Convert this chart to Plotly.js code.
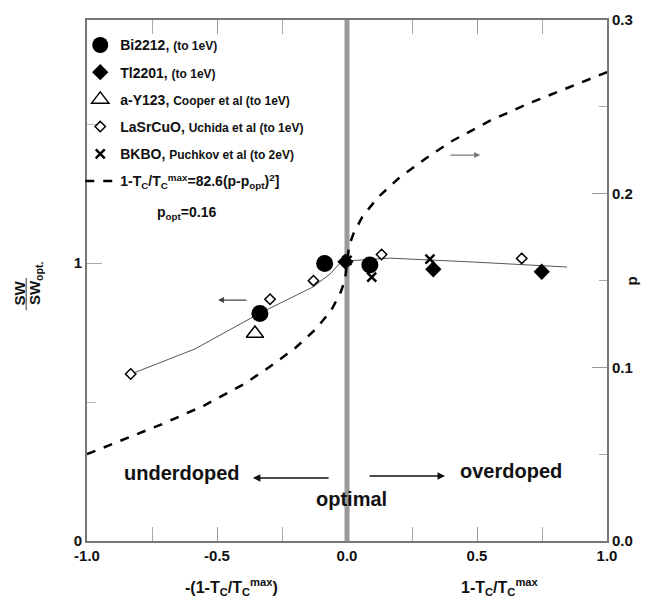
<!DOCTYPE html>
<html>
<head>
<meta charset="utf-8">
<script src="https://cdn.plot.ly/plotly-3.0.1.min.js"></script>
<style>html,body{margin:0;padding:0;background:#fff;}#chart{width:645px;height:601px;}</style>
</head>
<body>
<div id="chart"></div>
<script>
// ---- data ----
const bi_x = [-0.335, -0.086, 0.088];
const bi_y = [0.819, 0.999, 0.993];
const tl_x = [-0.006, 0.332, 0.749];
const tl_y = [1.005, 0.978, 0.969];
const y123_x = [-0.354];
const y123_y = [0.747];
const lsco_x = [-0.832, -0.296, -0.129, 0.133, 0.672];
const lsco_y = [0.601, 0.870, 0.937, 1.031, 1.017];
const bkbo_x = [0.0, 0.095, 0.319];
const bkbo_y = [1.010, 0.950, 1.014];
const guide_x = [-0.831, -0.585, -0.335, -0.131, -0.065, -0.027, 0.0, 0.165, 0.485, 0.846];
const guide_y = [0.601, 0.691, 0.820, 0.914, 0.961, 1.000, 1.008, 1.018, 1.004, 0.986];
const dash_x = [-1.0, -0.85, -0.7, -0.55, -0.4, -0.3, -0.2, -0.12, -0.06, -0.025, -0.008, 0.0,
                0.008, 0.025, 0.06, 0.12, 0.2, 0.3, 0.4, 0.55, 0.7, 0.85, 1.0];
const dash_p = [0.050, 0.059, 0.068, 0.078, 0.090, 0.100, 0.111, 0.122, 0.133, 0.143, 0.150, 0.160,
                0.170, 0.177, 0.187, 0.198, 0.209, 0.220, 0.230, 0.242, 0.252, 0.261, 0.270];
const optimalX = 0.0;
const xTickVals = [-1, -0.5, 0, 0.5, 1];
const xTickText = ['-1.0', '-0.5', '0.0', '0.5', '1.0'];
const xMinor = [-0.75, -0.25, 0.25, 0.75];
const yTickVals = [0, 1];
const yTickText = ['0', '1'];
const yMinor = [0.5, 1.5];
const pTickVals = [0, 0.1, 0.2, 0.3];
const pTickText = ['0.0', '0.1', '0.2', '0.3'];
const pMinor = [0.05, 0.15, 0.25];

const F = 'Liberation Sans, Arial, Helvetica, sans-serif';
const small = s => "<span style='font-size:12px'>" + s + "</span>";

const traces = [
  {x: [optimalX, optimalX], y: [0, 1.875], mode: 'lines', line: {color: '#9a9a9a', width: 5},
   showlegend: false, hoverinfo: 'skip'},
  {x: guide_x, y: guide_y, mode: 'lines', line: {color: '#555', width: 1}, showlegend: false},
  {x: dash_x, y: dash_p, yaxis: 'y2', mode: 'lines', line: {color: '#000', width: 2.5, dash: 'dash'},
   name: '<b>1-T<sub>C</sub>/T<sub>C</sub><sup>max</sup>=82.6(p-p<sub>opt</sub>)<sup>2</sup>]</b>',
   legendrank: 6, legendgroup: 'g6'},
  {x: lsco_x, y: lsco_y, mode: 'markers', name: '<b>LaSrCuO,</b> ' + small('<b>Uchida et al (to 1eV)</b>'),
   marker: {symbol: 'diamond', size: 8, color: '#fff', line: {color: '#000', width: 1.5}},
   legendrank: 4, legendgroup: 'g4'},
  {x: y123_x, y: y123_y, mode: 'markers', name: '<b>a-Y123,</b> ' + small('<b>Cooper et al (to 1eV)</b>'),
   marker: {symbol: 'triangle-up', size: 15, color: '#fff', line: {color: '#000', width: 1.5}},
   legendrank: 3, legendgroup: 'g3'},
  {x: bi_x, y: bi_y, mode: 'markers', name: '<b>Bi2212,</b> ' + small('<b>(to 1eV)</b>'),
   marker: {symbol: 'circle', size: 17, color: '#000'}, legendrank: 1, legendgroup: 'g1'},
  {x: tl_x, y: tl_y, mode: 'markers', name: '<b>Tl2201,</b> ' + small('<b>(to 1eV)</b>'),
   marker: {symbol: 'diamond', size: 12.5, color: '#000'}, legendrank: 2, legendgroup: 'g2'},
  {x: bkbo_x, y: bkbo_y, mode: 'markers', name: '<b>BKBO,</b> ' + small('<b>Puchkov et al (to 2eV)</b>'),
   marker: {symbol: 'x-thin-open', size: 9, color: '#000', line: {color: '#000', width: 2.5}},
   legendrank: 5, legendgroup: 'g5'}
];

const axLine = '#777';
const layout = {
  width: 645, height: 601,
  margin: {l: 87, r: 38, t: 20, b: 60},
  paper_bgcolor: '#fff', plot_bgcolor: '#fff',
  font: {family: F, color: '#111'},
  showlegend: true,
  legend: {x: -0.013, y: 0.982, xanchor: 'left', yanchor: 'top', bgcolor: 'rgba(0,0,0,0)',
           font: {family: F, size: 14, color: '#111'}, tracegroupgap: 6, itemsizing: 'trace',
           traceorder: 'grouped'},
  xaxis: {range: [-1, 1], tickvals: xTickVals, ticktext: xTickText, ticks: 'inside', ticklen: 14,
          tickcolor: '#999', tickwidth: 1, mirror: 'allticks', showline: true, linecolor: axLine, linewidth: 2,
          showgrid: false, zeroline: false, tickfont: {family: F, size: 15, color: '#111', weight: 'bold'},
          minor: {tickvals: xMinor, ticks: 'inside', ticklen: 9, tickcolor: '#aaa', showgrid: false}},
  yaxis: {range: [0, 1.875], tickvals: yTickVals, ticktext: yTickText, ticks: 'inside', ticklen: 15,
          tickcolor: '#aaa', showline: true, linecolor: axLine, linewidth: 2, showgrid: false, zeroline: false,
          tickfont: {family: F, size: 15, color: '#111', weight: 'bold'},
          minor: {tickvals: yMinor, ticks: 'inside', ticklen: 9, tickcolor: '#bbb', showgrid: false}},
  yaxis2: {range: [0, 0.3], overlaying: 'y', side: 'right', tickvals: pTickVals, ticktext: pTickText,
           ticks: 'inside', ticklen: 15, tickcolor: '#999', showline: true, linecolor: axLine, linewidth: 2,
           showgrid: false, zeroline: false, tickfont: {family: F, size: 15, color: '#111', weight: 'bold'},
           minor: {tickvals: pMinor, ticks: 'inside', ticklen: 8, tickcolor: '#aaa', showgrid: false}},
  shapes: [
    {type: 'line', xref: 'paper', yref: 'paper', x0: -0.117, x1: -0.117, y0: 0.443, y1: 0.505,
     line: {color: '#333', width: 1}}
  ],
  annotations: [
    {xref: 'paper', yref: 'paper', x: -0.129, y: 0.449, xanchor: 'center', yanchor: 'bottom', textangle: -90,
     text: '<b>SW</b>', showarrow: false, font: {family: F, size: 15, color: '#111'}},
    {xref: 'paper', yref: 'paper', x: -0.099, y: 0.449, xanchor: 'center', yanchor: 'bottom', textangle: -90,
     text: '<b>SW<sub>opt.</sub></b>', showarrow: false, font: {family: F, size: 15, color: '#111'}},
    {xref: 'paper', yref: 'paper', x: 1.048, y: 0.5, xanchor: 'center', yanchor: 'middle', textangle: -90,
     text: '<b>p</b>', showarrow: false, font: {family: F, size: 15, color: '#111'}},
    {xref: 'x', yref: 'paper', x: -0.446, y: -0.088, xanchor: 'center', yanchor: 'middle',
     text: '<b>-(1-T<sub>C</sub>/T<sub>C</sub><sup>max</sup>)</b>', showarrow: false, font: {family: F, size: 16, color: '#111'}},
    {xref: 'x', yref: 'paper', x: 0.588, y: -0.088, xanchor: 'center', yanchor: 'middle',
     text: '<b>1-T<sub>C</sub>/T<sub>C</sub><sup>max</sup></b>', showarrow: false, font: {family: F, size: 16, color: '#111'}},
    {xref: 'paper', yref: 'paper', x: 0.130, y: 0.629, xanchor: 'left', yanchor: 'middle',
     text: '<b>p<sub>opt</sub>=0.16</b>', showarrow: false, font: {family: F, size: 14, color: '#111'}},
    {xref: 'x', yref: 'y', x: -0.635, y: 0.245, text: '<b>underdoped</b>', showarrow: false,
     font: {family: F, size: 20, color: '#111'}},
    {xref: 'x', yref: 'y', x: 0.631, y: 0.252, text: '<b>overdoped</b>', showarrow: false,
     font: {family: F, size: 20, color: '#111'}},
    {xref: 'x', yref: 'y', x: 0.019, y: 0.151, text: '<b>optimal</b>', showarrow: false,
     font: {family: F, size: 20, color: '#111'}},
    {xref: 'x', yref: 'y', axref: 'x', ayref: 'y', x: -0.362, y: 0.227, ax: -0.065, ay: 0.227, text: '',
     showarrow: true, arrowhead: 2, arrowsize: 1, arrowwidth: 1.5, arrowcolor: '#111'},
    {xref: 'x', yref: 'y', axref: 'x', ayref: 'y', x: 0.377, y: 0.234, ax: 0.081, ay: 0.234, text: '',
     showarrow: true, arrowhead: 2, arrowsize: 1, arrowwidth: 1.5, arrowcolor: '#111'},
    {xref: 'x', yref: 'y', axref: 'x', ayref: 'y', x: -0.496, y: 0.867, ax: -0.381, ay: 0.867, text: '',
     showarrow: true, arrowhead: 2, arrowsize: 1, arrowwidth: 1.2, arrowcolor: '#444'},
    {xref: 'x', yref: 'y', axref: 'x', ayref: 'y', x: 0.512, y: 1.389, ax: 0.392, ay: 1.389, text: '',
     showarrow: true, arrowhead: 2, arrowsize: 1, arrowwidth: 1.2, arrowcolor: '#777'}
  ]
};

Plotly.newPlot('chart', traces, layout, {displayModeBar: false, staticPlot: true});
</script>
</body>
</html>
